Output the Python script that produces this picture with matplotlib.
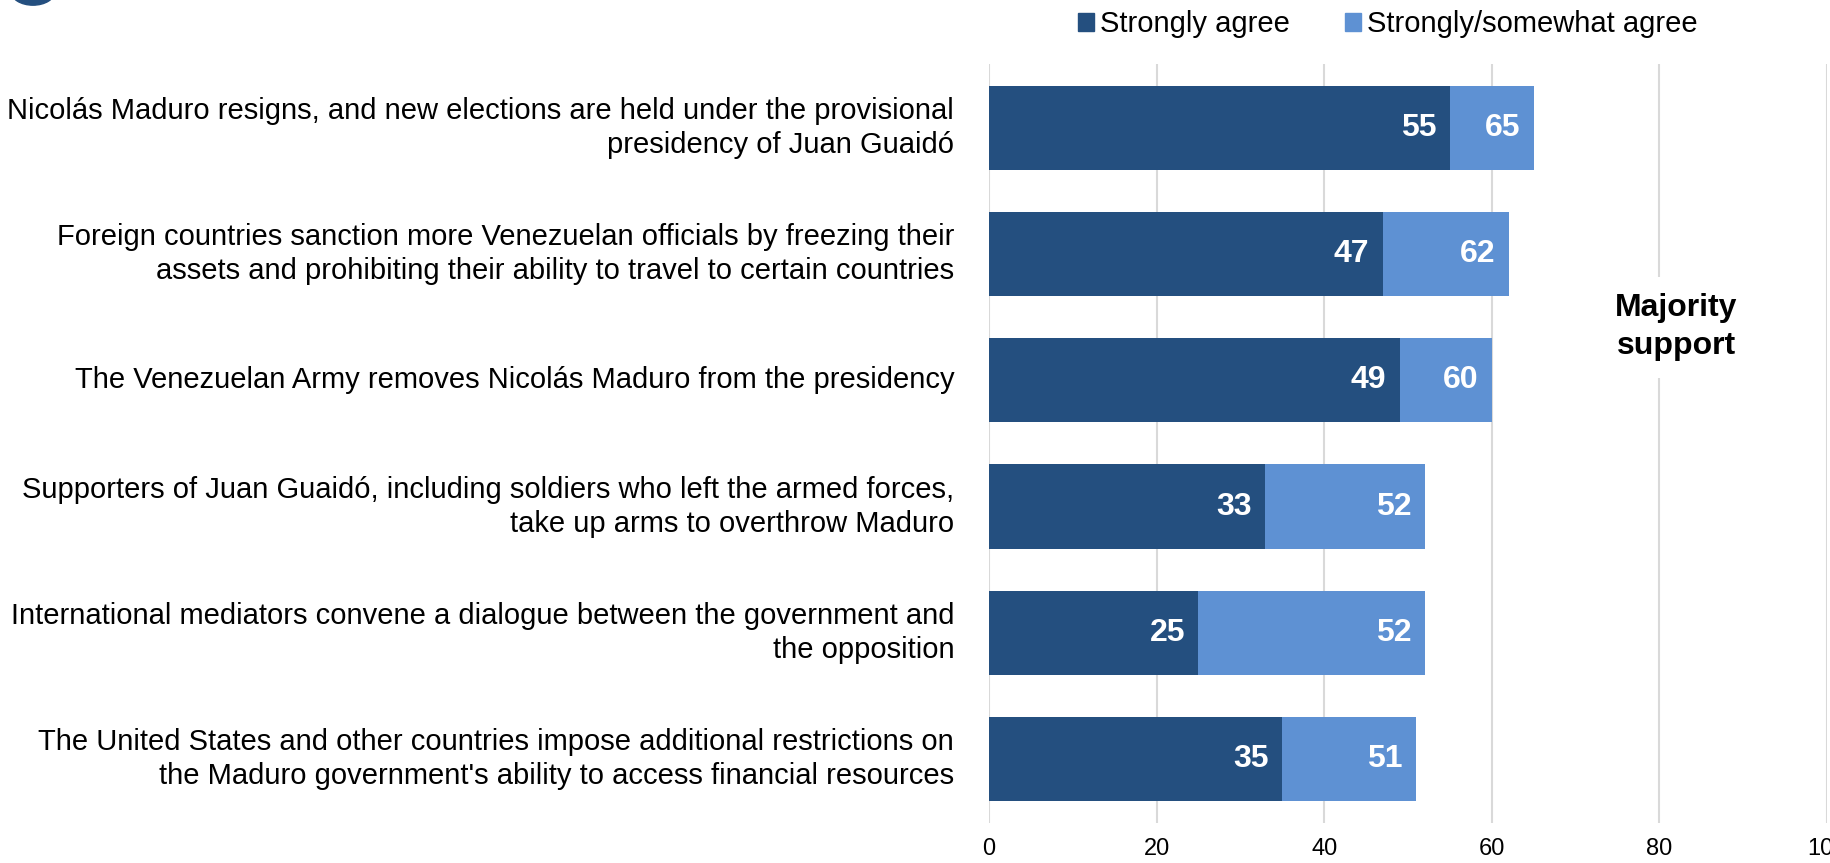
import matplotlib.pyplot as plt
from matplotlib.patches import Patch, Ellipse

plt.rcParams['font.family'] = ['Liberation Sans', 'DejaVu Sans']

labels = [
    "Nicolás Maduro resigns, and new elections are held under the provisional\npresidency of Juan Guaidó",
    "Foreign countries sanction more Venezuelan officials by freezing their\nassets and prohibiting their ability to travel to certain countries",
    "The Venezuelan Army removes Nicolás Maduro from the presidency",
    "Supporters of Juan Guaidó, including soldiers who left the armed forces,\ntake up arms to overthrow Maduro",
    "International mediators convene a dialogue between the government and\nthe opposition",
    "The United States and other countries impose additional restrictions on\nthe Maduro government's ability to access financial resources",
]
strongly = [55, 47, 49, 33, 25, 35]
total = [65, 62, 60, 52, 52, 51]
series_names = ['Strongly agree', 'Strongly/somewhat agree']

dark = '#244f7f'
light = '#5e91d3'

fig = plt.figure(figsize=(18.31, 8.63), dpi=100)
ax = fig.add_axes([0.5401, 0.0464, 0.4577, 0.8794])

y = list(range(len(labels)))
rest = [t - s for s, t in zip(strongly, total)]
ax.barh(y, strongly, height=0.667, color=dark, zorder=2)
ax.barh(y, rest, left=strongly, height=0.667, color=light, zorder=2)

# value labels, inside end of each segment
for i in y:
    ax.text(strongly[i] - 1.6, i, str(strongly[i]), ha='right', va='center',
            color='white', fontsize=23, fontweight='bold', zorder=3)
    ax.text(total[i] - 1.6, i, str(total[i]), ha='right', va='center',
            color='white', fontsize=23, fontweight='bold', zorder=3)

ax.set_xlim(0, 100)
ax.set_ylim(5.508, -0.508)
ax.set_xticks([0, 20, 40, 60, 80, 100])
ax.set_yticks(y)
ax.set_yticklabels(labels, fontsize=21, linespacing=1.27)
for lab in ax.get_yticklabels():
    lab.set_va('center')
ax.tick_params(axis='both', length=0)
ax.tick_params(axis='y', pad=25)
ax.tick_params(axis='x', labelsize=17, pad=11)
ax.xaxis.grid(True, color='#d9d9d9', linewidth=1.5, zorder=0)
ax.set_axisbelow(True)
for s in ax.spines.values():
    s.set_visible(False)

ax.text(82, 1.58, 'Majority\nsupport', ha='center', va='center', fontsize=23,
        fontweight='bold', linespacing=1.35, zorder=3,
        bbox=dict(facecolor='white', edgecolor='none', pad=12))

handles = [Patch(color=dark), Patch(color=light)]
fig.legend(handles, series_names, loc='center', bbox_to_anchor=(0.758, 0.972),
           ncol=2, frameon=False, fontsize=21, handlelength=0.55, handleheight=0.55,
           handletextpad=0.2, columnspacing=1.9)

# partial logo at top-left corner
fig.patches.append(Ellipse((0.018, 1.01), 0.024, 0.032, transform=fig.transFigure,
                           color=dark, figure=fig))

fig.savefig('out.png', dpi=100)
